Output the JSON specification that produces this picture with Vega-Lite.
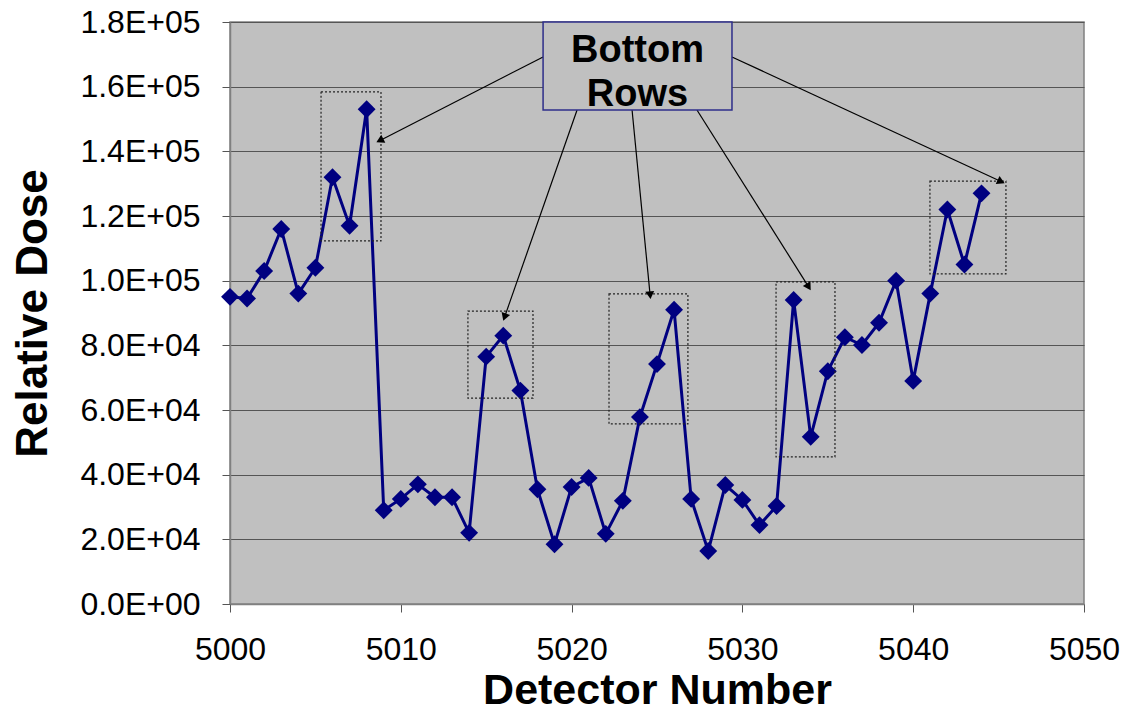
{
  "$schema": "https://vega.github.io/schema/vega-lite/v6.json",
  "width": 854,
  "height": 582,
  "autosize": {"type": "none"},
  "padding": {"left": 230, "top": 22, "right": 41, "bottom": 111},
  "background": "white",
  "config": {
    "view": {"fill": "#C0C0C0", "stroke": "#808080", "strokeWidth": 1.5},
    "font": "Liberation Sans"
  },
  "datasets": {
    "dose": [
      {"detector": 5000, "dose": 95000},
      {"detector": 5001, "dose": 94500},
      {"detector": 5002, "dose": 103000},
      {"detector": 5003, "dose": 116000},
      {"detector": 5004, "dose": 96000},
      {"detector": 5005, "dose": 104000},
      {"detector": 5006, "dose": 132000},
      {"detector": 5007, "dose": 117000},
      {"detector": 5008, "dose": 153000},
      {"detector": 5009, "dose": 29000},
      {"detector": 5010, "dose": 32500},
      {"detector": 5011, "dose": 37000},
      {"detector": 5012, "dose": 33000},
      {"detector": 5013, "dose": 33000},
      {"detector": 5014, "dose": 22000},
      {"detector": 5015, "dose": 76500},
      {"detector": 5016, "dose": 83000},
      {"detector": 5017, "dose": 66000},
      {"detector": 5018, "dose": 35500},
      {"detector": 5019, "dose": 18500},
      {"detector": 5020, "dose": 36200},
      {"detector": 5021, "dose": 39000},
      {"detector": 5022, "dose": 21700},
      {"detector": 5023, "dose": 31900},
      {"detector": 5024, "dose": 57800},
      {"detector": 5025, "dose": 74200},
      {"detector": 5026, "dose": 91000},
      {"detector": 5027, "dose": 32500},
      {"detector": 5028, "dose": 16400},
      {"detector": 5029, "dose": 36800},
      {"detector": 5030, "dose": 32200},
      {"detector": 5031, "dose": 24400},
      {"detector": 5032, "dose": 30300},
      {"detector": 5033, "dose": 94000},
      {"detector": 5034, "dose": 51700},
      {"detector": 5035, "dose": 72000},
      {"detector": 5036, "dose": 82500},
      {"detector": 5037, "dose": 80100},
      {"detector": 5038, "dose": 87000},
      {"detector": 5039, "dose": 100000},
      {"detector": 5040, "dose": 69000},
      {"detector": 5041, "dose": 96000},
      {"detector": 5042, "dose": 122000},
      {"detector": 5043, "dose": 105000},
      {"detector": 5044, "dose": 127000}
    ],
    "boxes": [
      {"x1": 5005.33, "x2": 5008.84, "y1": 158400, "y2": 112300},
      {"x1": 5013.93, "x2": 5017.74, "y1": 90600, "y2": 63700},
      {"x1": 5022.19, "x2": 5026.81, "y1": 95900, "y2": 55700},
      {"x1": 5031.97, "x2": 5035.42, "y1": 99600, "y2": 45500},
      {"x1": 5040.98, "x2": 5045.43, "y1": 130800, "y2": 102100}
    ],
    "arrows": [
      {"id": 1, "x1": 5018.33, "y1": 169200, "x2": 5008.84, "y2": 143500},
      {"id": 2, "x1": 5020.32, "y1": 152800, "x2": 5016.10, "y2": 89100},
      {"id": 3, "x1": 5023.54, "y1": 152800, "x2": 5024.59, "y2": 95900},
      {"id": 4, "x1": 5027.34, "y1": 152800, "x2": 5033.84, "y2": 98400},
      {"id": 5, "x1": 5029.39, "y1": 169200, "x2": 5045.08, "y2": 130800}
    ],
    "label": [
      {"x1": 5018.33, "x2": 5029.39, "y1": 180000, "y2": 152800, "xc": 5023.86, "yt": 171000, "yb": 157500, "t1": "Bottom", "t2": "Rows"}
    ]
  },
  "encoding": {
    "x": {
      "type": "quantitative",
      "scale": {"domain": [5000, 5050], "nice": false, "zero": false}
    },
    "y": {
      "type": "quantitative",
      "scale": {"domain": [0, 180000], "nice": false}
    }
  },
  "layer": [
    {
      "data": {"name": "dose"},
      "mark": {"type": "line", "color": "#000080", "strokeWidth": 3},
      "encoding": {
        "x": {
          "field": "detector", "type": "quantitative",
          "axis": {
            "title": "Detector Number", "titleFontSize": 43, "titleFontWeight": "bold", "titleColor": "black",
            "titlePadding": 4,
            "values": [5000, 5010, 5020, 5030, 5040, 5050], "format": "d",
            "labelFontSize": 32, "labelColor": "black", "labelPadding": 22,
            "grid": false, "domainColor": "#808080", "domainWidth": 1.5,
            "tickColor": "#555555", "tickSize": 8, "labelFlush": false
          }
        },
        "y": {
          "field": "dose", "type": "quantitative",
          "axis": {
            "title": "Relative Dose", "titleFontSize": 44, "titleFontWeight": "bold", "titleColor": "black",
            "titlePadding": 24,
            "values": [0, 20000, 40000, 60000, 80000, 100000, 120000, 140000, 160000, 180000],
            "labelExpr": "replace(format(datum.value, '.1e'), 'e+', 'E+0')",
            "labelFontSize": 32, "labelColor": "black", "labelPadding": 22,
            "grid": true, "gridColor": "#555555", "gridWidth": 1.2,
            "domainColor": "#808080", "domainWidth": 1.5,
            "tickColor": "#555555", "tickSize": 8, "labelFlush": false
          }
        }
      }
    },
    {
      "data": {"name": "dose"},
      "mark": {"type": "point", "shape": "diamond", "filled": true, "color": "#000080", "size": 320, "opacity": 1},
      "encoding": {
        "x": {"field": "detector", "type": "quantitative"},
        "y": {"field": "dose", "type": "quantitative"}
      }
    },
    {
      "data": {"name": "boxes"},
      "mark": {"type": "rect", "fill": null, "fillOpacity": 0, "stroke": "#222222", "strokeWidth": 1.2, "strokeDash": [2, 2]},
      "encoding": {
        "x": {"field": "x1", "type": "quantitative"},
        "x2": {"field": "x2"},
        "y": {"field": "y1", "type": "quantitative"},
        "y2": {"field": "y2"}
      }
    },
    {
      "data": {"name": "arrows"},
      "mark": {"type": "rule", "color": "#000000", "strokeWidth": 1.2},
      "encoding": {
        "x": {"field": "x1", "type": "quantitative"},
        "x2": {"field": "x2"},
        "y": {"field": "y1", "type": "quantitative"},
        "y2": {"field": "y2"}
      }
    },
    {
      "data": {"name": "arrows"},
      "transform": [{"filter": "datum.id == 1"}],
      "mark": {"type": "point", "shape": "triangle", "filled": true, "color": "black", "size": 80, "opacity": 1, "angle": 243},
      "encoding": {"x": {"field": "x2", "type": "quantitative"}, "y": {"field": "y2", "type": "quantitative"}}
    },
    {
      "data": {"name": "arrows"},
      "transform": [{"filter": "datum.id == 2"}],
      "mark": {"type": "point", "shape": "triangle", "filled": true, "color": "black", "size": 80, "opacity": 1, "angle": 199},
      "encoding": {"x": {"field": "x2", "type": "quantitative"}, "y": {"field": "y2", "type": "quantitative"}}
    },
    {
      "data": {"name": "arrows"},
      "transform": [{"filter": "datum.id == 3"}],
      "mark": {"type": "point", "shape": "triangle", "filled": true, "color": "black", "size": 80, "opacity": 1, "angle": 174},
      "encoding": {"x": {"field": "x2", "type": "quantitative"}, "y": {"field": "y2", "type": "quantitative"}}
    },
    {
      "data": {"name": "arrows"},
      "transform": [{"filter": "datum.id == 4"}],
      "mark": {"type": "point", "shape": "triangle", "filled": true, "color": "black", "size": 80, "opacity": 1, "angle": 148},
      "encoding": {"x": {"field": "x2", "type": "quantitative"}, "y": {"field": "y2", "type": "quantitative"}}
    },
    {
      "data": {"name": "arrows"},
      "transform": [{"filter": "datum.id == 5"}],
      "mark": {"type": "point", "shape": "triangle", "filled": true, "color": "black", "size": 80, "opacity": 1, "angle": 115},
      "encoding": {"x": {"field": "x2", "type": "quantitative"}, "y": {"field": "y2", "type": "quantitative"}}
    },
    {
      "data": {"name": "label"},
      "mark": {"type": "rect", "fill": "#C0C0C0", "stroke": "#2E2E8A", "strokeWidth": 1.5},
      "encoding": {
        "x": {"field": "x1", "type": "quantitative"},
        "x2": {"field": "x2"},
        "y": {"field": "y1", "type": "quantitative"},
        "y2": {"field": "y2"}
      }
    },
    {
      "data": {"name": "label"},
      "mark": {"type": "text", "fontSize": 38, "fontWeight": "bold", "color": "black", "align": "center", "baseline": "middle"},
      "encoding": {
        "x": {"field": "xc", "type": "quantitative"},
        "y": {"field": "yt", "type": "quantitative"},
        "text": {"field": "t1"}
      }
    },
    {
      "data": {"name": "label"},
      "mark": {"type": "text", "fontSize": 38, "fontWeight": "bold", "color": "black", "align": "center", "baseline": "middle"},
      "encoding": {
        "x": {"field": "xc", "type": "quantitative"},
        "y": {"field": "yb", "type": "quantitative"},
        "text": {"field": "t2"}
      }
    }
  ]
}
